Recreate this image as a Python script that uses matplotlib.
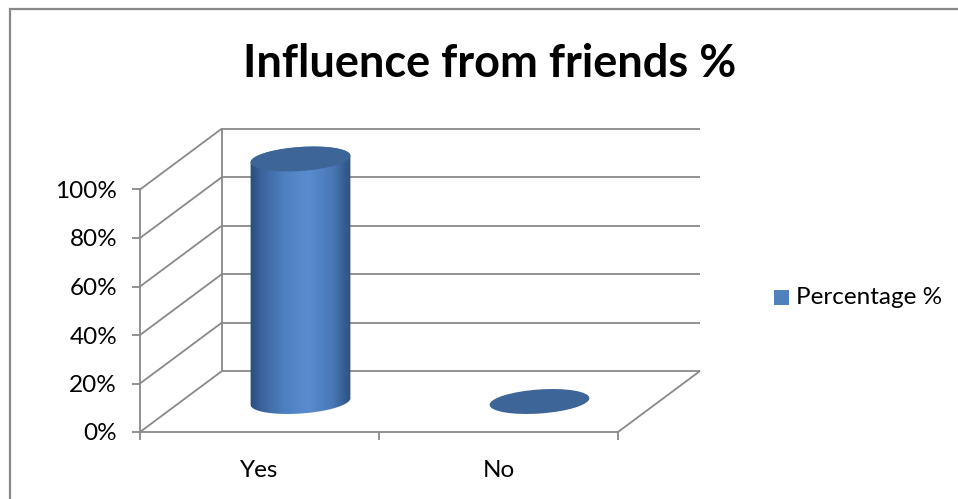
import numpy as np
import matplotlib
matplotlib.use("Agg")
import matplotlib.pyplot as plt
from matplotlib.patches import Polygon, Ellipse, Rectangle
from matplotlib.colors import LinearSegmentedColormap

# ---- data ----
categories = ["Yes", "No"]
percentages = [100, 0]
series_name = "Percentage %"
y_ticks = [0, 20, 40, 60, 80, 100]
y_tick_labels = ["0%", "20%", "40%", "60%", "80%", "100%"]
title = "Influence from friends %"

# ---- style ----
W, H = 958, 499
DPI = 100
GRID = "#898989"
LW = 1.3
FONT = "Lato"
FS = 17.5
DEPTH = (82, 61)          # pixel offset of the back wall (right, up)
RX, RY, ROT = 50, 12, 4   # cylinder cross-section in pixels
CAP_COLOR = "#3D6598"

fig = plt.figure(figsize=(W / DPI, H / DPI), dpi=DPI)

# full-figure pixel canvas for the pseudo-3D drawing
canvas = fig.add_axes([0, 0, 1, 1])
canvas.set_xlim(0, W)
canvas.set_ylim(0, H)
canvas.axis("off")

# value axes: front plane of the 3-D box
ax = fig.add_axes([140 / W, 67 / H, 478 / W, 242.5 / H])
ax.set_xlim(0, len(categories))
ax.set_ylim(0, 100)
ax.patch.set_visible(False)
for s in ("top", "right"):
    ax.spines[s].set_visible(False)
for s in ("left", "bottom"):
    ax.spines[s].set_color(GRID)
    ax.spines[s].set_linewidth(LW)
ax.set_yticks(y_ticks)
ax.set_yticklabels(y_tick_labels, fontfamily=FONT, fontsize=FS)
ax.tick_params(axis="y", length=5.5, width=LW, color=GRID, pad=11)
ax.set_xticks(range(len(categories) + 1))
ax.set_xticklabels([])
ax.set_xticks([i + 0.5 for i in range(len(categories))], minor=True)
ax.set_xticklabels(categories, minor=True, fontfamily=FONT, fontsize=FS)
ax.tick_params(axis="x", which="major", length=6, width=LW, color=GRID)
ax.tick_params(axis="x", which="minor", length=0, pad=20)


def px(x, y, depth=0.0):
    """Data point on the value axes -> canvas pixels, pushed back by depth (0..1)."""
    X, Y = ax.transData.transform((x, y))
    return X + DEPTH[0] * depth, Y + DEPTH[1] * depth


def seg(p, q, **kw):
    canvas.plot([p[0], q[0]], [p[1], q[1]], color=GRID, lw=LW,
                solid_capstyle="butt", **kw)


n = len(categories)
# side wall gridlines, back wall gridlines and back-left edge
for v in y_ticks:
    seg(px(0, v), px(0, v, 1))
    seg(px(0, v, 1), px(n, v, 1))
seg(px(0, 0, 1), px(0, 100, 1))
# floor right edge
seg(px(n, 0), px(n, 0, 1))


def ellipse_pts(cx, cy, t):
    c, s = np.cos(np.radians(ROT)), np.sin(np.radians(ROT))
    u, w = RX * np.cos(t), RY * np.sin(t)
    return cx + u * c - w * s, cy + u * s + w * c


cmap = LinearSegmentedColormap.from_list(
    "cyl", [(0.0, "#284A78"), (0.12, "#3A639C"), (0.35, "#4F80C0"),
            (0.58, "#5A8CD0"), (0.82, "#4A78B6"), (0.96, "#33598C"),
            (1.0, "#2E5283")])

for i, val in enumerate(percentages):
    bx, by = px(i + 0.5, 0, 0.5)
    tx, ty = px(i + 0.5, val, 0.5)
    if val > 0:
        tb = np.linspace(np.pi, 2 * np.pi, 80)
        tt = np.linspace(0, np.pi, 80)
        xb, yb = ellipse_pts(bx, by, tb)
        xt, yt = ellipse_pts(tx, ty, tt)
        body = Polygon(np.column_stack([np.r_[xb, xt], np.r_[yb, yt]]),
                       closed=True, facecolor="none", edgecolor="none")
        canvas.add_patch(body)
        x0, x1 = bx - RX - 1, bx + RX + 1
        grad = np.linspace(0, 1, 256)[None, :]
        im = canvas.imshow(grad, cmap=cmap, aspect="auto",
                           extent=[x0, x1, by - RY - 4, ty + RY + 4],
                           interpolation="bilinear", zorder=3)
        im.set_clip_path(body)
    canvas.add_patch(Ellipse((tx, ty), 2 * RX, 2 * RY, angle=ROT,
                             facecolor=CAP_COLOR, edgecolor="none", zorder=4))

# title
fig.text(490 / W, 1 - 64 / H, title, ha="center", va="center",
         fontfamily=FONT, fontweight="bold", fontsize=32.5)

# legend
canvas.add_patch(Rectangle((774, H - 305), 15, 15, facecolor="#4F81BD",
                           edgecolor="none"))
canvas.text(796, H - 298, series_name, ha="left", va="center",
            fontfamily=FONT, fontsize=FS)

# chart frame (top and left edges)
canvas.plot([10, 10, W], [0, H - 9, H - 9], color="#888888", lw=1.6,
            solid_joinstyle="miter")

fig.savefig("out.png", dpi=DPI)
